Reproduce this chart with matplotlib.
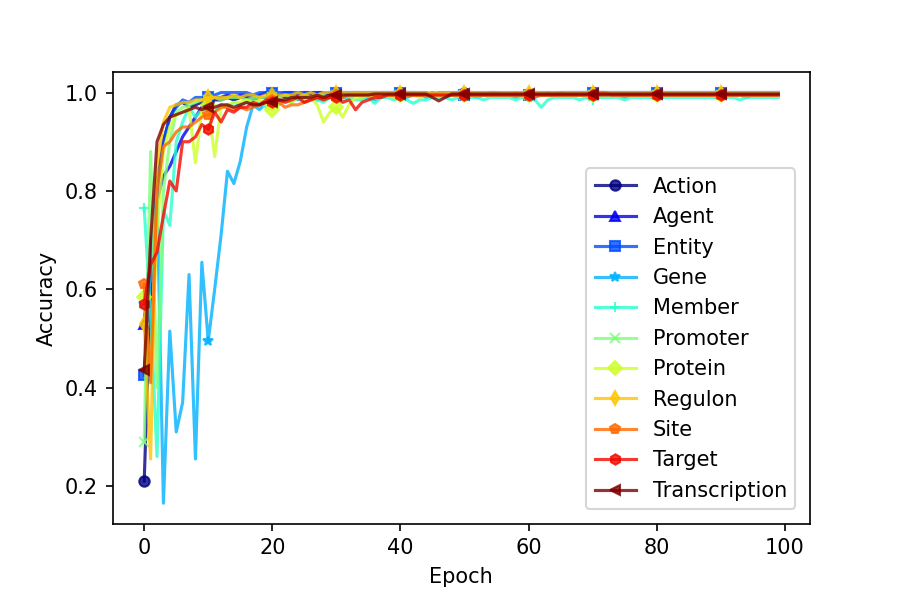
import matplotlib
matplotlib.use("Agg")
import matplotlib.pyplot as plt
import numpy as np

# accuracy per epoch
labels=["Action","Agent","Entity","Gene","Member","Promoter","Protein","Regulon","Site","Target","Transcription"]
markers=["o","^","s","*","+","x","D","d","p","h","<"]

action=[0.21,0.60,0.82,0.90,0.95,0.975,0.98,0.97,0.975,0.98,
        0.98,0.985,0.985,0.99,0.985,0.99,0.99,0.985,0.99,0.99,
        0.99,0.995,0.99,0.995,1.0,0.995,0.995,1.0,1.0,0.995,
        1.0,1.0,0.995,1.0,1.0,1.0,0.995,1.0,1.0,1.0,
        1.0,1.0,1.0,0.995,0.995,1.0,0.995,0.995,0.995,1.0,
        1.0,0.995,0.995,0.995,1.0,1.0,0.995,0.995,1.0,0.995,
        0.995,0.995,0.995,1.0,0.995,1.0,1.0,1.0,1.0,1.0,
        1.0,1.0,1.0,1.0,1.0,1.0,1.0,1.0,1.0,1.0,
        1.0,1.0,1.0,1.0,1.0,1.0,1.0,1.0,1.0,1.0,
        1.0,1.0,1.0,1.0,1.0,1.0,1.0,1.0,1.0,1.0]
agent=[0.53,0.69,0.78,0.83,0.85,0.88,0.91,0.93,0.95,0.97,
       0.985,0.99,0.99,0.995,0.99,0.995,0.995,0.99,0.995,1.0,
       1.0,0.995,1.0,1.0,0.995,1.0,1.0,1.0,0.995,1.0,
       1.0,1.0,1.0,1.0,0.995,1.0,1.0,1.0,1.0,1.0,
       1.0,1.0,1.0,1.0,1.0,0.995,1.0,1.0,1.0,1.0,
       1.0,1.0,1.0,1.0,1.0,1.0,1.0,1.0,1.0,1.0,
       1.0,1.0,1.0,1.0,1.0,1.0,1.0,1.0,1.0,1.0,
       1.0,1.0,1.0,1.0,1.0,1.0,1.0,1.0,1.0,1.0,
       1.0,1.0,1.0,1.0,1.0,1.0,1.0,1.0,1.0,1.0,
       1.0,1.0,1.0,1.0,1.0,1.0,1.0,1.0,1.0,1.0]
entity=[0.425,0.62,0.80,0.90,0.95,0.97,0.985,0.98,0.99,0.99,
        0.99,0.995,1.0,1.0,1.0,1.0,1.0,0.995,1.0,1.0,
        1.0,1.0,1.0,1.0,1.0,1.0,1.0,1.0,1.0,1.0,
        1.0,1.0,1.0,1.0,1.0,1.0,1.0,1.0,1.0,1.0,
        1.0,1.0,1.0,1.0,1.0,0.995,0.995,0.995,0.995,0.995,
        0.995,0.995,0.995,0.995,0.995,0.995,0.995,0.995,0.995,0.995,
        0.995,0.995,0.995,0.995,0.995,0.995,1.0,1.0,1.0,1.0,
        1.0,1.0,1.0,1.0,1.0,1.0,1.0,1.0,1.0,1.0,
        1.0,1.0,1.0,1.0,1.0,1.0,1.0,1.0,1.0,1.0,
        1.0,1.0,1.0,1.0,1.0,1.0,1.0,1.0,1.0,1.0]
gene=[0.57,0.62,0.80,0.165,0.515,0.31,0.37,0.63,0.255,0.655,
      0.495,0.60,0.71,0.84,0.815,0.86,0.93,0.975,0.965,0.98,
      0.99,0.98,0.985,0.99,0.985,0.99,0.99,0.985,0.99,0.99,
      0.995,0.99,0.99,0.995,0.99,0.99,0.985,0.99,0.995,0.99,
      0.995,0.99,0.995,0.995,0.99,0.995,0.995,0.99,0.995,0.995,
      0.995,0.995,0.99,0.995,0.995,0.995,0.995,0.995,0.99,0.995,
      0.995,0.99,0.995,0.995,0.995,0.995,0.995,0.995,0.995,0.995,
      0.995,0.995,0.995,0.995,0.995,0.99,0.995,0.995,0.995,0.995,
      0.995,0.995,0.995,0.995,0.995,0.995,0.995,0.995,0.995,0.995,
      0.995,0.995,0.995,0.995,0.99,0.995,0.995,0.995,0.995,0.995]
member=[0.765,0.55,0.26,0.76,0.73,0.90,0.94,0.97,0.95,0.965,
        0.97,0.96,0.975,0.97,0.98,0.975,0.98,0.985,0.98,0.97,
        0.98,0.975,0.985,0.98,0.99,0.98,0.99,0.985,0.98,0.99,
        0.99,0.985,0.99,0.985,0.985,0.99,0.978,0.99,0.99,0.985,
        0.99,0.985,0.978,0.985,0.985,0.99,0.99,0.99,0.985,0.99,
        0.99,0.99,0.99,0.985,0.99,0.99,0.99,0.99,0.985,0.99,
        0.99,0.985,0.97,0.985,0.99,0.99,0.99,0.99,0.985,0.99,
        0.985,0.99,0.99,0.99,0.99,0.985,0.99,0.99,0.99,0.99,
        0.99,0.99,0.99,0.99,0.99,0.99,0.99,0.99,0.99,0.99,
        0.99,0.99,0.99,0.985,0.99,0.99,0.99,0.99,0.99,0.99]
promoter=[0.29,0.88,0.40,0.80,0.90,0.96,0.97,0.975,0.98,0.985,
          0.985,0.99,0.985,0.99,0.99,0.99,0.985,0.99,0.99,0.99,
          0.99,0.99,0.995,0.99,0.99,0.995,0.99,0.995,0.995,0.99,
          0.995,0.995,0.99,0.995,0.995,0.995,0.995,0.995,0.995,0.995,
          0.995,0.995,0.995,0.995,0.995,0.995,0.995,0.995,0.995,0.995,
          0.995,0.995,0.995,0.995,0.995,0.995,0.995,0.995,0.995,0.995,
          0.995,0.995,0.995,0.995,0.995,0.995,0.995,0.995,0.995,0.995,
          0.995,0.995,0.995,0.995,0.995,0.995,0.995,0.995,0.995,0.995,
          0.995,0.995,0.995,0.995,0.995,0.995,0.995,0.995,0.995,0.995,
          0.995,0.995,0.995,0.995,0.995,0.995,0.995,0.995,0.995,0.995]
protein=[0.585,0.42,0.72,0.88,0.93,0.955,0.96,0.97,0.857,0.965,
         0.975,0.87,0.97,0.975,0.98,0.98,0.985,0.98,0.985,0.975,
         0.965,0.975,0.985,0.98,0.99,0.985,0.99,0.975,0.94,0.96,
         0.97,0.95,0.975,0.99,0.99,0.995,0.99,0.995,0.995,0.99,
         0.995,0.995,0.995,0.99,0.995,0.995,0.995,0.995,0.995,0.995,
         0.995,0.995,0.995,0.995,0.995,0.995,0.995,0.995,0.995,0.995,
         0.995,0.995,0.995,0.995,0.995,0.995,0.995,0.995,0.995,0.995,
         0.995,0.995,0.995,0.995,0.995,0.995,0.995,0.995,0.995,0.995,
         0.995,0.995,0.995,0.995,0.995,0.995,0.995,0.995,0.995,0.995,
         0.995,0.995,0.995,0.995,0.995,0.995,0.995,0.995,0.995,0.995]
regulon=[0.53,0.255,0.85,0.94,0.97,0.975,0.98,0.98,0.985,0.985,
         0.99,0.99,0.99,0.99,0.995,0.99,0.995,0.995,0.99,0.995,
         0.995,0.995,0.995,0.995,1.0,0.995,1.0,0.995,1.0,1.0,
         1.0,1.0,1.0,1.0,1.0,1.0,1.0,1.0,1.0,1.0,
         1.0,1.0,1.0,1.0,1.0,1.0,1.0,1.0,1.0,1.0,
         1.0,1.0,1.0,1.0,1.0,1.0,1.0,1.0,1.0,1.0,
         1.0,1.0,1.0,1.0,1.0,1.0,1.0,1.0,1.0,1.0,
         1.0,1.0,1.0,1.0,1.0,1.0,1.0,1.0,1.0,1.0,
         1.0,1.0,1.0,1.0,1.0,1.0,1.0,1.0,1.0,1.0,
         1.0,1.0,1.0,1.0,1.0,1.0,1.0,1.0,1.0,1.0]
site=[0.61,0.41,0.80,0.89,0.90,0.92,0.93,0.93,0.94,0.95,
      0.955,0.96,0.97,0.97,0.965,0.97,0.965,0.97,0.975,0.98,
      0.985,0.98,0.97,0.975,0.975,0.98,0.985,0.99,0.99,0.99,
      0.995,0.99,0.995,0.995,0.995,0.995,0.995,0.995,0.995,0.995,
      0.995,0.995,0.995,0.995,0.995,0.995,0.995,0.995,0.995,0.995,
      0.995,0.995,0.995,0.995,0.995,0.995,0.995,0.995,0.995,0.995,
      0.995,0.995,0.995,0.995,0.995,0.995,0.995,0.995,0.995,0.995,
      0.995,1.0,1.0,0.995,0.995,0.995,0.995,0.995,0.995,0.995,
      0.995,0.995,0.995,0.995,0.995,0.995,0.995,0.995,0.995,0.995,
      0.995,0.995,0.995,0.995,0.995,0.995,0.995,0.995,0.995,0.995]
target=[0.57,0.65,0.675,0.75,0.82,0.80,0.90,0.90,0.91,0.935,
        0.925,0.96,0.94,0.965,0.96,0.97,0.97,0.98,0.975,0.985,
        0.98,0.985,0.98,0.985,0.99,0.98,0.985,0.99,0.985,0.99,
        0.99,0.98,0.985,0.965,0.98,0.985,0.99,0.99,0.995,0.995,
        0.995,0.995,0.995,0.995,0.995,0.995,0.995,0.995,0.995,0.995,
        0.995,0.995,0.995,0.995,0.995,0.995,0.995,0.995,0.995,0.995,
        0.995,0.995,0.995,0.995,0.995,0.995,0.995,0.995,0.995,0.995,
        0.995,0.995,0.995,0.995,0.995,0.995,0.995,0.995,0.995,0.995,
        0.995,0.995,0.995,0.995,0.995,0.995,0.995,0.995,0.995,0.995,
        0.995,0.995,0.995,0.995,0.995,0.995,0.995,0.995,0.995,0.995]
transcription=[0.435,0.70,0.90,0.935,0.95,0.955,0.96,0.965,0.97,0.965,
               0.97,0.97,0.975,0.975,0.97,0.975,0.98,0.975,0.975,0.98,
               0.98,0.985,0.985,0.99,0.99,0.99,0.99,0.995,0.99,0.995,
               0.995,0.995,0.995,0.995,0.995,0.995,0.997,0.997,0.997,0.997,
               0.997,0.997,0.997,0.997,0.997,0.99,0.983,0.99,0.997,0.997,
               0.997,0.997,0.997,0.997,0.997,0.997,0.997,0.997,0.997,0.997,
               0.997,0.997,0.997,0.997,0.997,0.997,0.997,0.997,0.997,0.997,
               0.997,0.997,0.997,0.997,0.997,0.997,0.997,0.997,0.997,0.997,
               0.997,0.997,0.997,0.997,0.997,0.997,0.997,0.997,0.997,0.997,
               0.997,0.997,0.997,0.997,0.997,0.997,0.997,0.997,0.997,0.997]

series=[action,agent,entity,gene,member,promoter,protein,regulon,site,target,transcription]
epochs=np.arange(len(action))

fig,ax=plt.subplots(figsize=(6,4),dpi=150)
fig.subplots_adjust(left=0.125,right=0.9,top=0.88,bottom=0.127)
colors=plt.cm.jet(np.linspace(0,1,len(series)))
for vals,lbl,mk,clr in zip(series,labels,markers,colors):
    ax.plot(epochs,vals,color=clr,marker=mk,markersize=5,markevery=10,alpha=0.8,label=lbl)

ax.set_xlabel("Epoch")
ax.set_ylabel("Accuracy")
ax.legend(loc="lower right",borderaxespad=0.7)
fig.savefig("out.png",dpi=150)
